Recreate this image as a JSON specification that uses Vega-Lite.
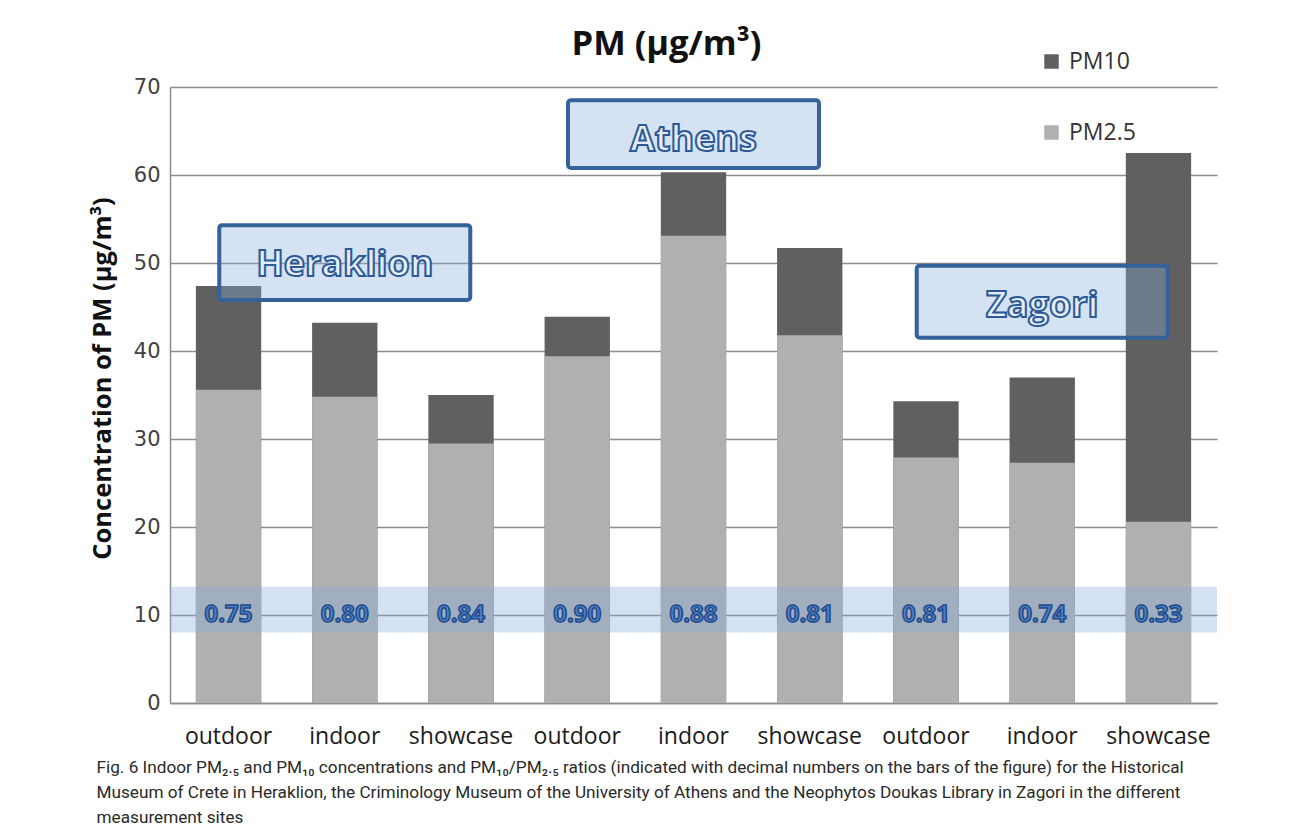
{
  "$schema": "https://vega.github.io/schema/vega-lite/v6.json",
  "autosize": {"type": "none"},
  "width": 1047,
  "height": 616,
  "padding": {"left": 170, "top": 87, "right": 76, "bottom": 135},
  "background": "white",
  "title": {
    "text": "PM (μg/m³)",
    "font": "Open Sans",
    "fontSize": 34.5,
    "fontWeight": "bold",
    "color": "#111111",
    "anchor": "middle",
    "baseline": "alphabetic",
    "dx": -27,
    "offset": -39
  },
  "datasets": {
    "sites": [
      {"site": "Heraklion outdoor", "PM10": 47.4, "PM25": 35.6, "ratio": 0.75},
      {"site": "Heraklion indoor", "PM10": 43.2, "PM25": 34.8, "ratio": 0.80},
      {"site": "Heraklion showcase", "PM10": 35.0, "PM25": 29.5, "ratio": 0.84},
      {"site": "Athens outdoor", "PM10": 43.9, "PM25": 39.4, "ratio": 0.90},
      {"site": "Athens indoor", "PM10": 60.3, "PM25": 53.1, "ratio": 0.88},
      {"site": "Athens showcase", "PM10": 51.7, "PM25": 41.8, "ratio": 0.81},
      {"site": "Zagori outdoor", "PM10": 34.3, "PM25": 27.9, "ratio": 0.81},
      {"site": "Zagori indoor", "PM10": 37.0, "PM25": 27.3, "ratio": 0.74},
      {"site": "Zagori showcase", "PM10": 62.5, "PM25": 20.6, "ratio": 0.33}
    ],
    "cities": [
      {"city": "Heraklion", "site": "Heraklion indoor", "lo": 45.8, "hi": 54.3},
      {"city": "Athens", "site": "Athens indoor", "lo": 60.8, "hi": 68.5},
      {"city": "Zagori", "site": "Zagori indoor", "lo": 41.5, "hi": 49.7}
    ]
  },
  "layer": [
    {
      "data": {"name": "sites"},
      "transform": [{"fold": ["PM10", "PM25"], "as": ["fraction", "conc"]}],
      "mark": {"type": "bar"},
      "encoding": {
        "x": {
          "field": "site",
          "type": "nominal",
          "scale": {
            "domain": ["Heraklion outdoor", "Heraklion indoor", "Heraklion showcase", "Athens outdoor", "Athens indoor", "Athens showcase", "Zagori outdoor", "Zagori indoor", "Zagori showcase"],
            "paddingInner": 0.438,
            "paddingOuter": 0.2225
          },
          "axis": {
            "labelExpr": "split(datum.value, ' ')[1]",
            "labelAngle": 0,
            "labelFont": "Open Sans",
            "labelFontSize": 23,
            "labelColor": "#1a1a1a",
            "labelPadding": 22,
            "ticks": false,
            "domainColor": "#8c8c8c",
            "domainWidth": 1.5,
            "title": [
              "Fig. 6  Indoor PM₂.₅ and PM₁₀ concentrations and PM₁₀/PM₂.₅ ratios (indicated with decimal numbers on the bars of the figure) for the Historical",
              "Museum of Crete in Heraklion, the Criminology Museum of the University of Athens and the Neophytos Doukas Library in Zagori in the different",
              "measurement sites"
            ],
            "titleFont": "Roboto",
            "titleFontSize": 17.2,
            "titleFontWeight": "normal",
            "titleColor": "#2a2a2a",
            "titleAnchor": "start",
            "titleAlign": "left",
            "titleBaseline": "top",
            "titleX": -74,
            "titleY": 55,
            "titleLineHeight": 25
          }
        },
        "y": {
          "field": "conc",
          "type": "quantitative",
          "stack": null,
          "scale": {"domain": [0, 70]},
          "axis": {
            "values": [0, 10, 20, 30, 40, 50, 60, 70],
            "title": "Concentration of PM (μg/m³)",
            "titleFont": "Open Sans",
            "titleFontSize": 25.5,
            "titleFontWeight": "bold",
            "titleColor": "#111111",
            "titleBaseline": "alphabetic",
            "titleX": -60,
            "titleY": 291,
            "labelFont": "DejaVu Sans",
            "labelFontSize": 21,
            "labelColor": "#404040",
            "labelPadding": 10,
            "ticks": false,
            "domainColor": "#8c8c8c",
            "domainWidth": 1.5,
            "grid": true,
            "gridColor": "#8c8c8c",
            "gridWidth": 1.5
          }
        },
        "color": {
          "field": "fraction",
          "type": "nominal",
          "scale": {"domain": ["PM10", "PM25"], "range": ["#606060", "#b0b0b0"]},
          "legend": {
            "orient": "none",
            "legendX": 870,
            "legendY": -37,
            "direction": "vertical",
            "title": null,
            "labelExpr": "datum.label == 'PM25' ? 'PM2.5' : datum.label",
            "labelFont": "Open Sans",
            "labelFontSize": 23,
            "labelColor": "#333333",
            "labelOffset": 6,
            "rowPadding": 47,
            "symbolType": "square",
            "symbolSize": 210,
            "symbolStrokeWidth": 0
          }
        }
      }
    },
    {
      "data": {"values": [{}]},
      "mark": {"type": "rect", "fill": "#85acdc", "fillOpacity": 0.36},
      "encoding": {
        "y": {"datum": 8.0, "type": "quantitative"},
        "y2": {"datum": 13.2}
      }
    },
    {
      "data": {"name": "sites"},
      "mark": {
        "type": "text",
        "font": "Open Sans",
        "fontSize": 24,
        "fontWeight": "bold",
        "fill": "#4f7fc4",
        "stroke": "#1d4a8a",
        "strokeWidth": 1.5,
        "baseline": "middle",
        "align": "center"
      },
      "encoding": {
        "x": {"field": "site", "type": "nominal"},
        "y": {"datum": 10, "type": "quantitative"},
        "text": {"field": "ratio", "type": "quantitative", "format": ".2f"}
      }
    },
    {
      "data": {"name": "cities"},
      "mark": {
        "type": "bar",
        "width": 251,
        "fill": "#85acdc",
        "fillOpacity": 0.35,
        "stroke": "#34629a",
        "strokeWidth": 4,
        "cornerRadius": 3
      },
      "encoding": {
        "x": {"field": "site", "type": "nominal"},
        "y": {"field": "hi", "type": "quantitative"},
        "y2": {"field": "lo"}
      }
    },
    {
      "data": {"name": "cities"},
      "mark": {
        "type": "text",
        "font": "Open Sans",
        "fontSize": 36,
        "fontWeight": "bold",
        "fill": "#e6edf8",
        "stroke": "#2c5a96",
        "strokeWidth": 2,
        "baseline": "middle",
        "align": "center",
        "dy": 40
      },
      "encoding": {
        "x": {"field": "site", "type": "nominal"},
        "y": {"field": "hi", "type": "quantitative"},
        "text": {"field": "city", "type": "nominal"}
      }
    }
  ],
  "config": {
    "view": {"stroke": null}
  }
}
